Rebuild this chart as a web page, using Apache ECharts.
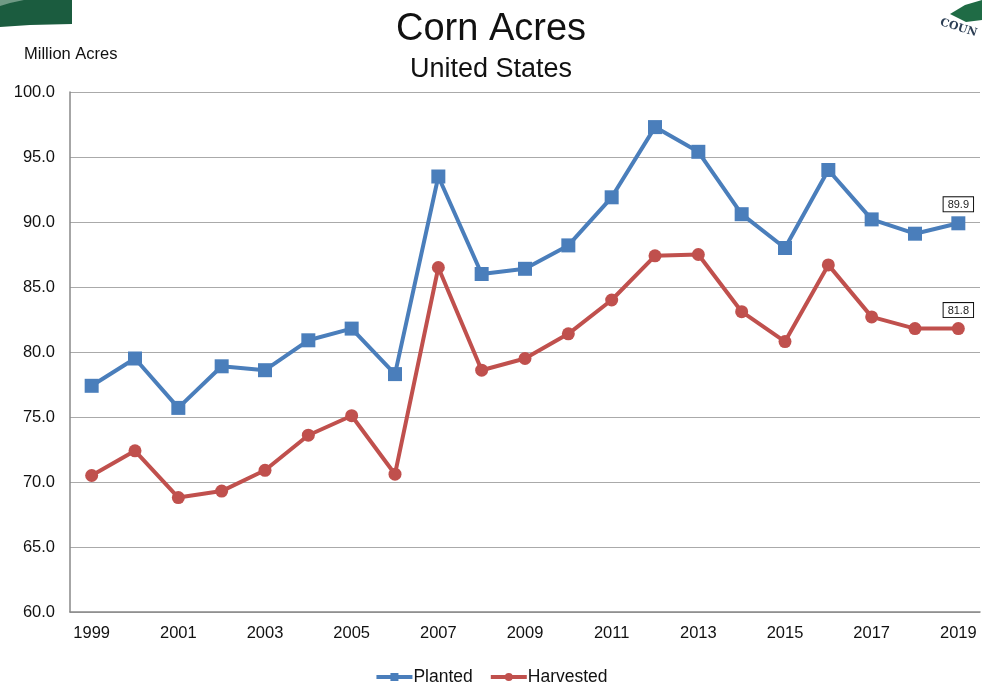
<!DOCTYPE html>
<html>
<head>
<meta charset="utf-8">
<script src="https://cdn.jsdelivr.net/npm/echarts@6/dist/echarts.min.js"></script>
<style>
  html, body { margin: 0; padding: 0; background: #fff; }
  #chart { width: 982px; height: 690px; }
</style>
</head>
<body>
<div id="chart"></div>
<script>
// years on the x axis
var years = ['1999','2000','2001','2002','2003','2004','2005','2006','2007','2008','2009',
             '2010','2011','2012','2013','2014','2015','2016','2017','2018','2019'];
// million acres
var planted = [77.4, 79.5, 75.7, 78.9, 78.6, 80.9, 81.8, 78.3, 93.5, 86.0, 86.4,
               88.2, 91.9, 97.3, 95.4, 90.6, 88.0, 94.0, 90.2, 89.1, 89.9];
var harvested = [70.5, 72.4, 68.8, 69.3, 70.9, 73.6, 75.1, 70.6, 86.5, 78.6, 79.5,
                 81.4, 84.0, 87.4, 87.5, 83.1, 80.8, 86.7, 82.7, 81.8, 81.8];

var font = 'Liberation Sans, Arial, sans-serif';
var myChart = echarts.init(document.getElementById('chart'));

// only the last point carries a boxed label
function lastLabel(arr) {
    return arr.map(function (v, i) {
        if (i !== arr.length - 1) return v;
        return {
            value: v,
            label: {
                show: true,
                position: 'top',
                distance: 5,
                formatter: function (p) { return p.value.toFixed(1); },
                fontSize: 11,
                fontFamily: font,
                color: '#222',
                backgroundColor: '#fff',
                borderColor: '#111',
                borderWidth: 1,
                padding: [2, 4, 1, 4]
            }
        };
    });
}

var option = {
    animation: false,
    backgroundColor: '#fff',
    title: [
        {
            text: 'Corn Acres',
            left: 'center',
            top: 6,
            textStyle: { fontFamily: font, fontSize: 38, fontWeight: 'normal', color: '#111' }
        },
        {
            text: 'United States',
            left: 'center',
            top: 51,
            textStyle: { fontFamily: font, fontSize: 27, fontWeight: 'normal', color: '#111' }
        },
        {
            text: 'Million Acres',
            left: 19,
            top: 41,
            textStyle: { fontFamily: font, fontSize: 16.5, fontWeight: 'normal', color: '#111' }
        }
    ],
    graphic: [
        {
            type: 'polygon',
            shape: { points: [[0, 0], [72, 0], [72, 24], [30, 25], [0, 27]] },
            style: { fill: '#1b5c3f' }
        },
        {
            type: 'polygon',
            shape: { points: [[0, 6], [10, 3], [24, 0], [0, 0]] },
            style: { fill: '#6f9a85' }
        },
        {
            type: 'polygon',
            shape: { points: [[950, 14], [965, 5], [982, 0], [982, 20], [966, 22]] },
            style: { fill: '#1f6b45' }
        },
        {
            type: 'text',
            x: 942,
            y: 17,
            rotation: -0.3,
            style: { text: 'COUN', font: 'bold 11px DejaVu Serif, serif', fill: '#2d3f55' }
        }
    ],
    legend: {
        bottom: -1,
        left: 'center',
        itemWidth: 36,
        itemHeight: 10,
        itemGap: 16,
        lineStyle: { width: 4 },
        textStyle: { fontFamily: font, fontSize: 17.5, color: '#111', padding: [0, 0, 0, -4] },
        data: ['Planted', 'Harvested']
    },
    grid: {
        left: 70,
        right: 2,
        top: 92,
        bottom: 78
    },
    xAxis: {
        type: 'category',
        data: years,
        boundaryGap: true,
        axisLine: { lineStyle: { color: '#888', width: 1.5 } },
        axisTick: { show: false },
        axisLabel: { interval: 1, margin: 13, fontFamily: font, fontSize: 16.5, color: '#111' }
    },
    yAxis: {
        type: 'value',
        min: 60,
        max: 100,
        interval: 5,
        axisLine: { show: true, lineStyle: { color: '#888', width: 1.5 } },
        axisTick: { show: false },
        splitLine: { lineStyle: { color: '#aaa', width: 1 } },
        axisLabel: {
            margin: 15,
            fontFamily: font,
            fontSize: 16.5,
            color: '#111',
            formatter: function (v) { return v.toFixed(1); }
        }
    },
    series: [
        {
            name: 'Planted',
            type: 'line',
            data: lastLabel(planted),
            symbol: 'rect',
            symbolSize: 14,
            lineStyle: { width: 4, color: '#4a7ebb' },
            itemStyle: { color: '#4a7ebb' }
        },
        {
            name: 'Harvested',
            type: 'line',
            data: lastLabel(harvested),
            symbol: 'circle',
            symbolSize: 13,
            lineStyle: { width: 4, color: '#c0504d' },
            itemStyle: { color: '#c0504d' }
        }
    ]
};

myChart.setOption(option);
window.onresize = function () {
    myChart.resize();
};
</script>
</body>
</html>
